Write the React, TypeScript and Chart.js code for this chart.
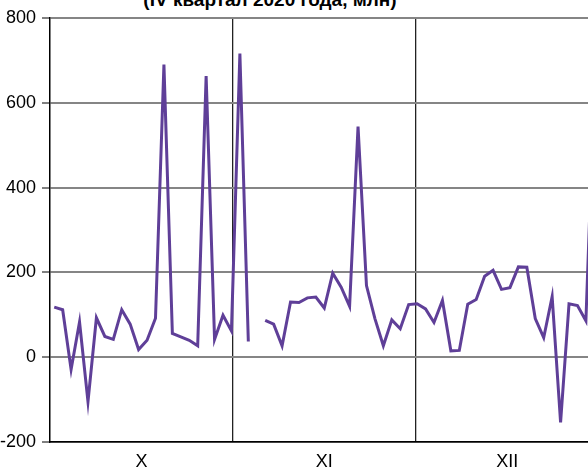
import React, { useEffect, useRef } from 'react';
import { Chart, registerables } from 'chart.js';

Chart.register(...registerables);

// ---- data (working days of Q4 2020) ----
const TITLE = '(IV квартал 2020 года, млн)';
const monthLabels = ['X', 'XI', 'XII'];

const octDays = [1, 2, 5, 6, 7, 8, 9, 12, 13, 14, 15, 16, 19, 20, 21, 22, 23, 26, 27, 28, 29, 30];
const novDays = [2, 3, 4, 5, 6, 9, 10, 11, 12, 13, 16, 17, 18, 19, 20, 23, 24, 25, 26, 27, 30];
const decDays = [1, 2, 3, 4, 7, 8, 9, 10, 11, 14, 15, 16, 17, 18, 21, 22, 23, 24, 25, 28, 29, 30, 31];

const octValues: (number | null)[] = [118, 112, -29, 83, -105, 93, 49, 42, 112, 78, 18, 40, 92, 690, 56, 48, 40, 27, 663, 42, 99, 62];
const novValues: (number | null)[] = [716, 37, null, 87, 78, 27, 130, 129, 140, 142, 116, 198, 165, 120, 544, 169, 91, 27, 88, 67, 124];
const decValues: (number | null)[] = [126, 114, 82, 134, 15, 16, 125, 136, 191, 205, 160, 164, 213, 212, 91, 46, 143, -154, 126, 122, 86, 640, 150];

const yTicks = [-200, 0, 200, 400, 600, 800];

const FONT = "'Liberation Sans Narrow', 'Liberation Sans', Arial, sans-serif";
const tickFont = { family: FONT, size: 18 };

export default function App() {
  const ref = useRef<HTMLCanvasElement>(null);

  useEffect(() => {
    const labels = [
      ...octDays.map((d) => `${d}.10`),
      ...novDays.map((d) => `${d}.11`),
      ...decDays.map((d) => `${d}.12`),
    ];
    const values = [...octValues, ...novValues, ...decValues];

    const chart = new Chart(ref.current as HTMLCanvasElement, {
      type: 'line',
      data: {
        labels,
        datasets: [
          {
            data: values,
            borderColor: '#5f3f98',
            borderWidth: 3,
            pointRadius: 0,
            tension: 0,
            spanGaps: false,
            xAxisID: 'x',
            yAxisID: 'y',
          },
        ],
      },
      options: {
        responsive: false,
        animation: false,
        layout: { padding: { top: 18, left: 0, right: 5, bottom: 0 } },
        plugins: {
          legend: { display: false },
          tooltip: { enabled: false },
          title: { display: false },
        },
        scales: {
          x: {
            type: 'category',
            display: false,
            offset: true,
          },
          x2: {
            type: 'linear',
            position: 'bottom',
            min: 0,
            max: 3.046,
            afterBuildTicks: (scale: any) => {
              scale.ticks = [0, 0.5, 1, 1.5, 2, 2.5, 3].map((v) => ({ value: v }));
            },
            afterFit: (scale: any) => {
              scale.height = 31;
            },
            border: { display: true, color: '#000', width: 1.5 },
            grid: {
              drawTicks: false,
              lineWidth: 1.3,
              color: (ctx: any) =>
                ctx.tick && (ctx.tick.value === 1 || ctx.tick.value === 2) ? '#222' : 'rgba(0,0,0,0)',
            },
            ticks: {
              autoSkip: false,
              maxRotation: 0,
              padding: 9,
              color: '#000',
              font: tickFont,
              callback: (v: any) => {
                const n = Number(v);
                const k = Math.floor(n);
                return n - k === 0.5 ? monthLabels[k] : '';
              },
            },
          },
          y: {
            min: -200,
            max: 800,
            afterBuildTicks: (scale: any) => {
              scale.ticks = yTicks.map((v) => ({ value: v }));
            },
            afterFit: (scale: any) => {
              scale.width = 50;
            },
            border: { display: true, color: '#000', width: 1.5 },
            grid: {
              color: '#858585',
              lineWidth: 2,
              tickColor: '#000',
              tickWidth: 1,
              tickLength: 8,
            },
            ticks: {
              padding: 6,
              color: '#000',
              font: tickFont,
            },
          },
        },
      },
    });
    return () => chart.destroy();
  }, []);

  return (
    <div
      style={{
        position: 'absolute',
        left: 0,
        top: 0,
        width: 588,
        height: 473,
        overflow: 'hidden',
        background: '#fff',
      }}
    >
      <div
        style={{
          position: 'absolute',
          left: 0,
          top: -10,
          width: 540,
          textAlign: 'center',
          fontFamily: "'Liberation Sans', Arial, sans-serif",
          fontWeight: 'bold',
          fontSize: 19,
          lineHeight: '19px',
          whiteSpace: 'nowrap',
          color: '#000',
        }}
      >
        {TITLE}
      </div>
      <canvas
        ref={ref}
        width={612}
        height={473}
        style={{ position: 'absolute', left: 0, top: 0, width: 612, height: 473 }}
      />
    </div>
  );
}
